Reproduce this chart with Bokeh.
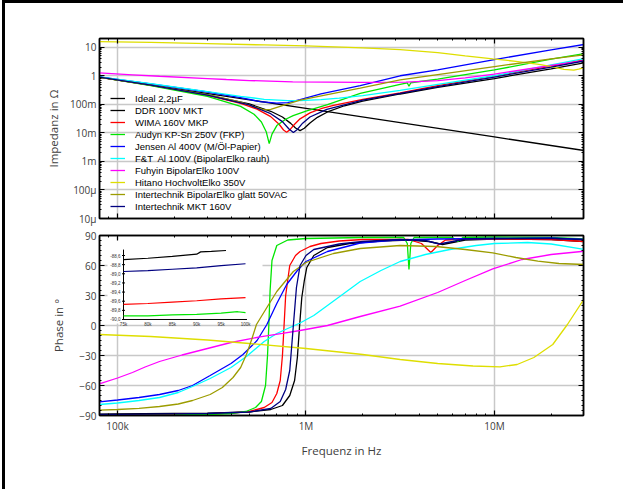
from bokeh.plotting import figure
from bokeh.models import (FixedTicker, LogAxis, LinearAxis, Legend, LegendItem,
                          Range1d, LinearScale)
from bokeh.layouts import column
from bokeh.embed import file_html
from bokeh.resources import INLINE
from bokeh.core.properties import value

# ---------------- data ----------------
NAMES = ["Ideal 2,2µF", "DDR 100V MKT", "WIMA 160V MKP", "Audyn KP-Sn 250V (FKP)",
         "Jensen Al 400V (M/Öl-Papier)", "F&T  Al 100V (BipolarElko rauh)",
         "Fuhyin BipolarElko 100V", "Hitano HochvoltElko 350V",
         "Intertechnik BipolarElko glatt 50VAC", "Intertechnik MKT 160V"]
COLORS = ["#000000", "#000000", "#ff0000", "#00e600", "#0000ff", "#00ffff",
          "#ff00ff", "#dede00", "#9c9c00", "#000080"]

# Impedance (Ohm) vs frequency (Hz)
F_Z_IDEAL = [8.0e4, 1e5, 1e6, 1e7, 3e7]
Z_IDEAL = [0.905, 0.72, 0.072, 0.0072, 0.0024]

F_Z_DDR = [8e4, 1.5e5, 3e5, 5e5, 6.5e5, 7.5e5, 8.3e5, 8.8e5, 9.3e5, 9.8e5, 1.05e6,
           1.15e6, 1.3e6, 1.6e6, 2e6, 3.16e6, 5e6, 1e7, 2e7, 3e7]
Z_DDR = [0.897, 0.47, 0.216, 0.103, 0.057, 0.036, 0.0215, 0.0148, 0.012, 0.0145, 0.0223,
         0.035, 0.054, 0.089, 0.13, 0.23, 0.39, 0.8, 1.75, 2.85]

F_Z_WIMA = [8e4, 1.5e5, 3e5, 4.5e5, 5.5e5, 6.5e5, 7.2e5, 7.6e5, 7.89e5, 8.2e5, 8.7e5,
            9.3e5, 1.05e6, 1.2e6, 1.4e6, 2e6, 3.16e6, 5e6, 1e7, 2e7, 3e7]
Z_WIMA = [0.895, 0.465, 0.206, 0.108, 0.068, 0.037, 0.02, 0.0126, 0.0105, 0.0127, 0.02,
          0.031, 0.05, 0.07, 0.092, 0.15, 0.25, 0.45, 0.97, 2.2, 3.6]

F_Z_AUDYN = [8e4, 1.5e5, 3e5, 4.5e5, 5.3e5, 5.8e5, 6.15e5, 6.38e5, 6.6e5, 7e5, 7.8e5,
             8.55e5, 1e6, 1.3e6, 1.94e6, 3.16e6, 3.45e6, 3.52e6, 3.6e6, 5e6, 1e7, 2e7, 3e7]
Z_AUDYN = [0.89, 0.455, 0.19, 0.085, 0.045, 0.024, 0.011, 0.0042, 0.009, 0.018, 0.03,
           0.04, 0.058, 0.098, 0.24, 0.5, 0.56, 0.43, 0.57, 0.76, 1.6, 3.8, 6.0]

F_Z_JENSEN = [8e4, 1.5e5, 3e5, 4.5e5, 5.7e5, 7e5, 8e5, 9.3e5, 1.2e6, 1.94e6, 3.16e6,
              5e6, 1e7, 2e7, 3e7]
Z_JENSEN = [0.91, 0.52, 0.27, 0.17, 0.125, 0.11, 0.115, 0.146, 0.23, 0.45, 1.0,
            1.6, 3.7, 8.0, 12.5]

F_Z_FT = [8e4, 1.5e5, 3e5, 4.5e5, 6e5, 8e5, 9.3e5, 1.2e6, 1.5e6, 2e6, 3.16e6, 5e6,
          1e7, 2e7, 3e7]
Z_FT = [0.92, 0.53, 0.28, 0.19, 0.15, 0.135, 0.135, 0.145, 0.165, 0.2, 0.31, 0.5,
        1.0, 2.4, 4.0]

F_Z_FUHYIN = [8e4, 1.2e5, 1.67e5, 3e5, 3.78e5, 5e5, 8.5e5, 2e6, 3.4e6, 5e6, 7e6, 1e7,
              2e7, 3e7]
Z_FUHYIN = [1.26, 1.08, 0.96, 0.8, 0.74, 0.68, 0.61, 0.59, 0.6, 0.68, 0.85, 1.15,
            2.3, 3.4]

F_Z_HITANO = [8e4, 1.5e5, 3e5, 6e5, 1e6, 2e6, 3.16e6, 5e6, 7e6, 9.8e6, 1.3e7, 1.76e7,
              2.1e7, 2.34e7, 2.64e7, 2.8e7, 3e7]
Z_HITANO = [15.8, 14.8, 13.3, 12.0, 11.1, 9.5, 8.3, 6.5, 5.0, 3.9, 3.2, 2.46,
            1.95, 1.68, 1.58, 1.7, 1.95]

F_Z_ITBIP = [8e4, 1.5e5, 3e5, 4.5e5, 5.4e5, 6e5, 6.5e5, 7.5e5, 9.3e5, 1.3e6, 1.94e6,
             3.16e6, 5e6, 1e7, 2e7, 3e7]
Z_ITBIP = [0.88, 0.47, 0.22, 0.12, 0.08, 0.064, 0.066, 0.09, 0.14, 0.22, 0.37,
           0.72, 1.1, 2.1, 3.9, 5.4]

F_Z_ITMKT = [8e4, 1.5e5, 3e5, 5e5, 6.5e5, 7.5e5, 8.1e5, 8.57e5, 9e5, 9.6e5, 1.05e6,
             1.29e6, 2e6, 3.16e6, 5e6, 1e7, 2e7, 3e7]
Z_ITMKT = [0.896, 0.467, 0.21, 0.095, 0.047, 0.0247, 0.0139, 0.0102, 0.0132, 0.0218,
           0.036, 0.066, 0.14, 0.24, 0.42, 0.9, 2.0, 3.3]

# Phase (degrees) vs frequency (Hz)
F_P_DDR = [8e4, 9.6e4, 2e5, 3e5, 5e5, 6.5e5, 7.5e5, 8.2e5, 8.7e5, 9e5, 9.25e5, 9.5e5,
           9.8e5, 1.01e6, 1.1e6, 1.3e6, 1.7e6, 2.5e6, 3.5e6, 4.5e6, 5.3e6, 6e6, 7e6,
           1e7, 2e7, 3e7]
P_DDR = [-88.69, -88.49, -88.0, -87.7, -86.5, -84, -80, -70, -55, -32, 0, 28,
         45, 58, 70, 78, 82, 84.5, 85.5, 84, 81, 83, 85.5, 86.5, 86, 84]

F_P_WIMA = [8e4, 1e5, 2e5, 3e5, 4e5, 5e5, 6e5, 6.6e5, 7e5, 7.3e5, 7.5e5, 7.65e5, 7.8e5,
            8.2e5, 8.8e5, 9.3e5, 1.05e6, 1.2e6, 1.5e6, 2e6, 3.5e6, 4.1e6, 4.6e6, 5e6,
            5.5e6, 7e6, 1e7, 2e7, 3e7]
P_WIMA = [-89.67, -89.52, -89.0, -88.5, -87.5, -86, -82, -77, -68, -55, -30, 0, 30,
          60, 70, 74, 79, 82, 84.5, 86, 86, 82, 73, 80, 85.5, 86.5, 86.5, 86, 84]

F_P_AUDYN = [8e4, 1e5, 2e5, 3e5, 4e5, 4.8e5, 5.4e5, 5.8e5, 6.1e5, 6.25e5, 6.35e5, 6.45e5,
             6.6e5, 7e5, 8e5, 1e6, 2e6, 3.3e6, 3.45e6, 3.52e6, 3.6e6, 3.75e6, 6e6,
             6.4e6, 6.8e6, 1e7, 2e7, 3e7]
P_AUDYN = [-89.9, -89.85, -89.5, -89, -88, -86, -82, -76, -60, -30, 0, 35,
           65, 80, 85.5, 87, 88, 88, 82, 56, 82, 88, 88,
           84, 88, 88.5, 88, 86.5]

F_P_JENSEN = [8e4, 1e5, 1.3e5, 1.67e5, 2.1e5, 2.5e5, 3.1e5, 4e5, 4.63e5, 5.5e5, 6.2e5,
              7e5, 7.9e5, 9e5, 1e6, 1.3e6, 1.94e6, 3e6, 5e6, 1e7, 2e7, 3e7]
P_JENSEN = [-76.3, -74.5, -72, -69, -65, -60, -50, -38, -29, -15, 1,
            22, 41, 55, 64, 74, 82.5, 85.5, 86.5, 87, 87.5, 86]

F_P_FT = [8e4, 1e5, 1.3e5, 1.67e5, 2.1e5, 2.5e5, 3.1e5, 4e5, 4.83e5, 6e5, 7e5, 8e5,
          9.3e5, 1.1e6, 1.39e6, 1.94e6, 2.5e6, 3.16e6, 4.3e6, 5.8e6, 8e6, 1e7, 1.5e7,
          2e7, 3e7]
P_FT = [-79, -77.5, -75, -72, -67, -61, -53, -42, -31, -16, -8, -3,
        2.5, 10, 24, 44, 55, 64, 71, 76, 80, 82, 83,
        81.5, 76]

F_P_FUHYIN = [8e4, 1e5, 1.2e5, 1.4e5, 1.67e5, 2.2e5, 3e5, 4e5, 5.7e5, 7.5e5, 9.3e5,
              1.3e6, 1.94e6, 3.16e6, 5e6, 7e6, 9.8e6, 1.4e7, 2e7, 3e7]
P_FUHYIN = [-58.3, -52.5, -47, -41.5, -36, -29.5, -23, -17, -11.3, -7.8, -5,
            0, 9, 19.3, 33, 45, 56.7, 66, 71, 74.3]

F_P_HITANO = [8e4, 1.5e5, 3e5, 5e5, 1e6, 2e6, 3.16e6, 5e6, 7.7e6, 1.07e7, 1.32e7,
              1.62e7, 2.04e7, 2.44e7, 3e7]
P_HITANO = [-9, -11, -14.5, -18, -23, -29, -34, -38, -40.5, -41.3, -39,
            -32, -19, 1, 27]

F_P_ITBIP = [8e4, 1e5, 1.3e5, 1.67e5, 2.1e5, 2.5e5, 3.1e5, 3.6e5, 4.1e5, 4.5e5, 4.83e5,
             5.15e5, 5.46e5, 6.2e5, 7e5, 8.57e5, 1e6, 1.4e6, 1.94e6, 3.16e6, 4.9e6, 7e6,
             9.8e6, 1.3e7, 1.7e7, 2.2e7, 3e7]
P_ITBIP = [-84.7, -84, -82.8, -81, -78.5, -75, -69, -62, -52, -42, -29,
           -14, 1, 18, 34, 54, 63, 72, 77, 80, 79, 76,
           72.7, 68, 64.3, 62, 61]

F_P_ITMKT = [8e4, 1e5, 2e5, 3e5, 5e5, 6.5e5, 7.3e5, 7.8e5, 8.2e5, 8.57e5, 8.9e5, 9.3e5,
             1e6, 1.1e6, 1.5e6, 2e6, 3.16e6, 4.3e6, 5.1e6, 6e6, 7e6, 1e7, 2e7, 3e7]
P_ITMKT = [-88.95, -88.78, -88.3, -88, -86.5, -83, -76, -64, -45, 0, 38, 60,
           70, 76, 81.5, 84, 86, 85, 81.5, 84, 86.5, 87, 87, 86]

# Inset (zoom of the phase at 75k..100k)
F_IN_DDR = [75000, 80000, 85000, 90000, 90800, 93000, 96000]
P_IN_DDR = [-88.69, -88.66, -88.62, -88.57, -88.52, -88.51, -88.49]
F_IN_ITMKT = [75000, 80000, 85000, 90000, 95000, 100000]
P_IN_ITMKT = [-88.95, -88.93, -88.90, -88.87, -88.82, -88.78]
F_IN_WIMA = [75000, 80000, 85000, 90000, 95000, 100000]
P_IN_WIMA = [-89.67, -89.65, -89.62, -89.59, -89.55, -89.52]
F_IN_AUDYN = [75000, 80000, 85000, 90000, 95000, 98400, 100000]
P_IN_AUDYN = [-89.92, -89.92, -89.90, -89.89, -89.86, -89.83, -89.85]

INSET_Y_TICKS = [-90.0, -89.8, -89.6, -89.4, -89.2, -89.0, -88.8, -88.6]
INSET_Y_LABELS = ["-90,0", "-89,8", "-89,6", "-89,4", "-89,2", "-89,0", "-88,8", "-88,6"]
INSET_X_TICKS = [75000, 80000, 85000, 90000, 95000, 100000]
INSET_X_LABELS = ["75k", "80k", "85k", "90k", "95k", "100k"]

X_TICKS = [1e5, 1e6, 1e7]
X_LABELS = {1e5: "100k", 1e6: "1M", 1e7: "10M"}
Z_TICKS = [1e-5, 1e-4, 1e-3, 1e-2, 1e-1, 1.0, 10.0]
Z_LABELS = {1e-5: "10µ", 1e-4: "100µ", 1e-3: "1m", 1e-2: "10m", 1e-1: "100m",
            1.0: "1", 10.0: "10"}
P_TICKS = [-90, -60, -30, 0, 30, 60, 90]

# ---------------- layout constants ----------------
X_START, X_END = 8.02e4, 2.97e7
Z_MIN, Z_MAX = 1e-5, 20.2
FRAME_W, FRAME_H = 484, 180
LEFT, RIGHT = 94, 25
FONT = "Open Sans"
TXT = "#404040"

x_minor = [k * 10.0 ** e for e in range(4, 8) for k in range(2, 10)]
z_minor = [k * 10.0 ** e for e in range(-5, 2) for k in range(2, 10)]
p_minor = list(range(-90, 91, 5))


def style_axis(ax, labels):
    ax.axis_line_color = "black"
    ax.axis_line_width = 1.5
    ax.major_tick_in = 5
    ax.major_tick_out = 0
    ax.minor_tick_in = 2
    ax.minor_tick_out = 0
    ax.major_tick_line_color = "black"
    ax.minor_tick_line_color = "black"
    ax.major_tick_line_width = 1.2
    ax.major_label_text_font = FONT
    ax.major_label_text_color = TXT
    if labels:
        ax.major_label_text_font_size = "10px"
        ax.major_label_standoff = 3
    else:
        ax.major_label_text_font_size = "1px"
        ax.major_label_text_alpha = 0
        ax.major_label_standoff = 0
    ax.axis_label_text_font = FONT
    ax.axis_label_text_font_size = "11.5px"
    ax.axis_label_text_font_style = "normal"
    ax.axis_label_text_color = TXT


def make_fig(y_type, y_range, top, bottom):
    p = figure(x_axis_type="log", y_axis_type=y_type,
               x_range=Range1d(X_START, X_END), y_range=y_range,
               frame_width=FRAME_W, frame_height=FRAME_H,
               min_border_left=LEFT, min_border_right=RIGHT,
               min_border_top=top, min_border_bottom=bottom,
               output_backend="svg", toolbar_location=None,
               background_fill_color="white", border_fill_color="white")
    p.outline_line_color = "black"
    p.outline_line_width = 1.5
    return p


# ---------------- top: impedance ----------------
p1 = make_fig("log", Range1d(Z_MIN, Z_MAX), 35, 8)
xt = FixedTicker(ticks=X_TICKS, minor_ticks=x_minor)
zt = FixedTicker(ticks=Z_TICKS, minor_ticks=z_minor)
p1.xaxis[0].ticker = xt
p1.yaxis[0].ticker = zt
p1.yaxis[0].major_label_overrides = Z_LABELS
p1.yaxis[0].axis_label = "Impedanz in Ω"
p1.yaxis[0].axis_label_standoff = 6
style_axis(p1.xaxis[0], False)
style_axis(p1.yaxis[0], True)
a = LogAxis(ticker=xt)
style_axis(a, False)
p1.add_layout(a, "above")
a = LogAxis(ticker=zt)
style_axis(a, False)
p1.add_layout(a, "right")
p1.xgrid.ticker = xt
p1.ygrid.ticker = zt
for g in (p1.xgrid, p1.ygrid):
    g.grid_line_color = "#c8c8c8"
    g.grid_line_width = 1.5

z_series = [(F_Z_IDEAL, Z_IDEAL), (F_Z_DDR, Z_DDR), (F_Z_WIMA, Z_WIMA),
            (F_Z_AUDYN, Z_AUDYN), (F_Z_JENSEN, Z_JENSEN), (F_Z_FT, Z_FT),
            (F_Z_FUHYIN, Z_FUHYIN), (F_Z_HITANO, Z_HITANO), (F_Z_ITBIP, Z_ITBIP),
            (F_Z_ITMKT, Z_ITMKT)]
items = []
for name, col, (f, z) in zip(NAMES, COLORS, z_series):
    r = p1.line(f, z, line_color=col, line_width=1.3)
    items.append(LegendItem(label=name, renderers=[r]))

legend = Legend(items=items, location=(11, 6), orientation="vertical",
                background_fill_alpha=0, border_line_alpha=0, padding=0, margin=0,
                spacing=0, glyph_width=15, glyph_height=12, label_height=12,
                label_standoff=10, label_text_font="Liberation Sans",
                label_text_font_size="9.5px", label_text_color="black")
p1.add_layout(legend)

# ---------------- bottom: phase ----------------
p2 = make_fig("linear", Range1d(-90, 90), 9, 60)
pt = FixedTicker(ticks=P_TICKS, minor_ticks=p_minor)
p2.xaxis[0].ticker = xt
p2.xaxis[0].major_label_overrides = X_LABELS
p2.xaxis[0].axis_label = "Frequenz in Hz"
p2.xaxis[0].axis_label_standoff = 7
p2.yaxis[0].ticker = pt
p2.yaxis[0].axis_label = "Phase in °"
p2.yaxis[0].axis_label_standoff = 10
style_axis(p2.xaxis[0], True)
style_axis(p2.yaxis[0], True)
a = LogAxis(ticker=xt)
style_axis(a, False)
p2.add_layout(a, "above")
a = LinearAxis(ticker=pt)
style_axis(a, False)
p2.add_layout(a, "right")
p2.xgrid.ticker = xt
p2.ygrid.ticker = pt
for g in (p2.xgrid, p2.ygrid):
    g.grid_line_color = "#c8c8c8"
    g.grid_line_width = 1.5

# inset ranges (linear, mapped into a small box of the phase frame)
p2.extra_x_ranges = {"ix": Range1d(70082, 169256)}
p2.extra_y_ranges = {"iy": Range1d(-92.101, -88.162)}
p2.extra_x_scales = {"ix": LinearScale()}
p2.extra_y_scales = {"iy": LinearScale()}
INSET_BOX = dict(left=71722, right=103481, bottom=-90.09, top=-88.25)
p2.quad(**INSET_BOX, fill_color="white", line_color=None,
        x_range_name="ix", y_range_name="iy")

p_series = [(F_P_DDR, P_DDR, 1), (F_P_WIMA, P_WIMA, 2), (F_P_AUDYN, P_AUDYN, 3),
            (F_P_JENSEN, P_JENSEN, 4), (F_P_FT, P_FT, 5), (F_P_FUHYIN, P_FUHYIN, 6),
            (F_P_HITANO, P_HITANO, 7), (F_P_ITBIP, P_ITBIP, 8), (F_P_ITMKT, P_ITMKT, 9)]
for f, ph, i in p_series:
    p2.line(f, ph, line_color=COLORS[i], line_width=1.3)

# inset axes
x0, x1 = INSET_X_TICKS[0], INSET_X_TICKS[-1]
y0, y1 = INSET_Y_TICKS[0], INSET_Y_TICKS[-1]
p2.segment(x0=[x0, x0], y0=[y0, y0], x1=[x0, x1 + 300], y1=[y1 + 0.13, y0],
           line_color="black", line_width=1, x_range_name="ix", y_range_name="iy")
p2.text(x=[x0] * len(INSET_Y_TICKS), y=INSET_Y_TICKS, text=INSET_Y_LABELS,
        x_offset=-3, text_align="right", text_baseline="middle",
        text_font=value("Liberation Sans"), text_font_size="4.5px", text_color="#333333",
        x_range_name="ix", y_range_name="iy")
p2.text(x=INSET_X_TICKS, y=[y0] * len(INSET_X_TICKS), text=INSET_X_LABELS,
        y_offset=3, text_align="center", text_baseline="top",
        text_font=value("Liberation Sans"), text_font_size="4.5px", text_color="#333333",
        x_range_name="ix", y_range_name="iy")
p2.scatter(x=[x0] * len(INSET_Y_TICKS), y=INSET_Y_TICKS, marker="dash", size=3,
           line_color="black", x_range_name="ix", y_range_name="iy")

for f, ph, i in [(F_IN_DDR, P_IN_DDR, 1), (F_IN_ITMKT, P_IN_ITMKT, 9),
                 (F_IN_WIMA, P_IN_WIMA, 2), (F_IN_AUDYN, P_IN_AUDYN, 3)]:
    p2.line(f, ph, line_color=COLORS[i], line_width=1.2,
            x_range_name="ix", y_range_name="iy")

layout = column(p1, p2, styles={"border-left": "3px solid black",
                                "border-top": "3px solid black",
                                "margin-left": "2px",
                                "padding-right": "60px",
                                "padding-bottom": "30px"})
open("out.html", "w").write(file_html(layout, INLINE))
